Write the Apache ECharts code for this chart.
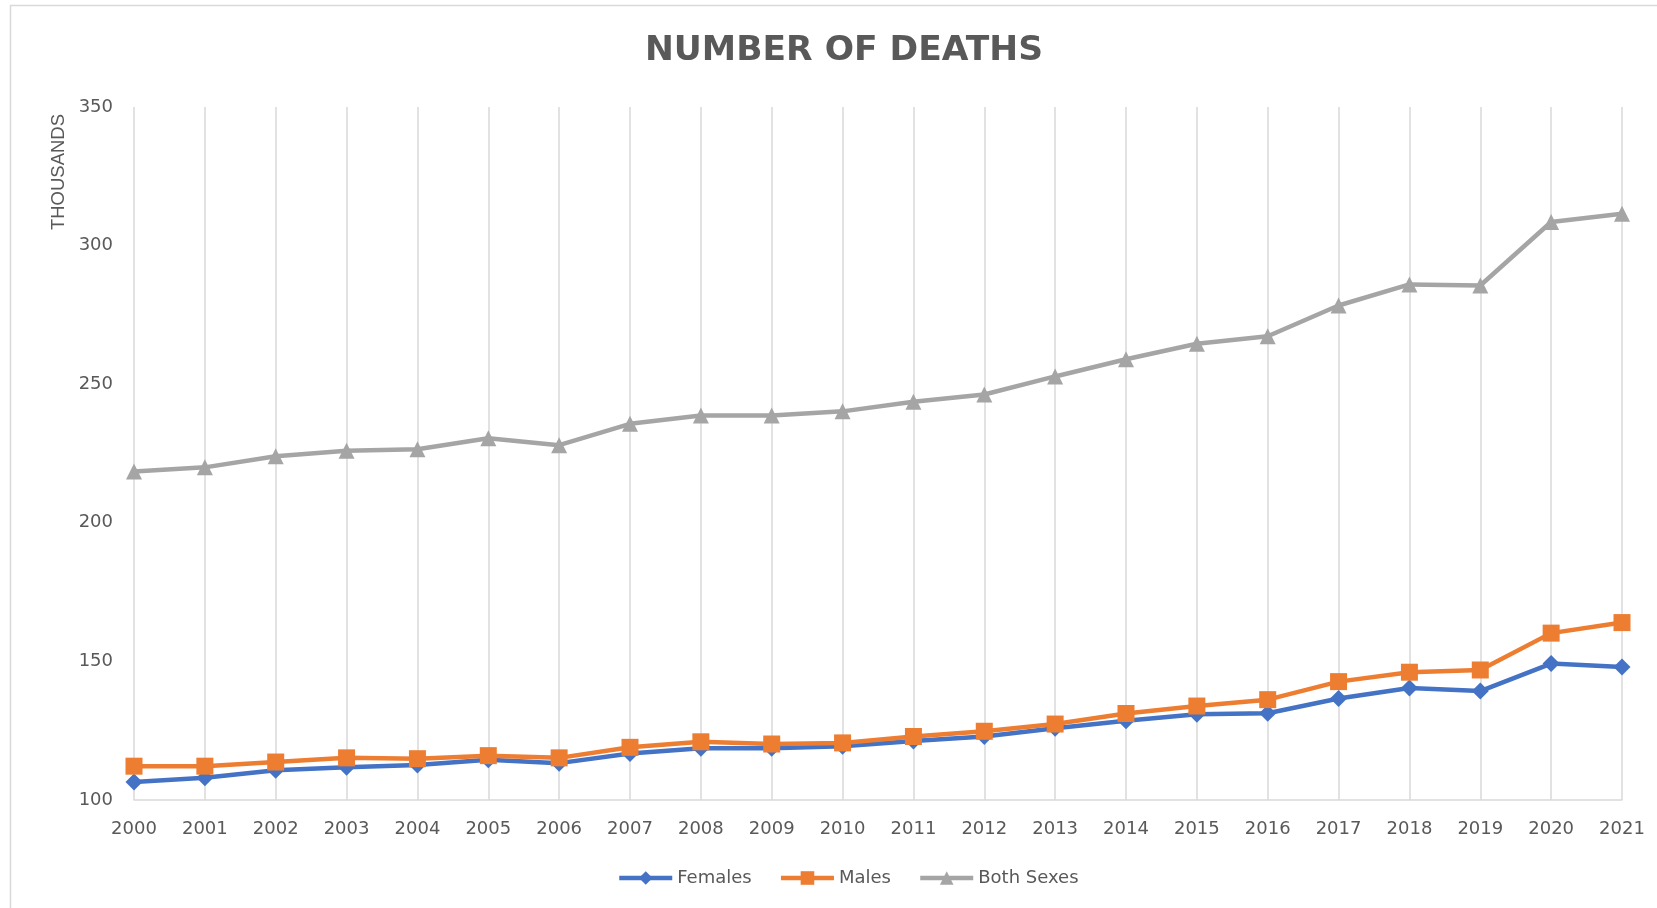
<!DOCTYPE html>
<html>
<head>
<meta charset="utf-8">
<script src="https://cdn.jsdelivr.net/npm/echarts@6/dist/echarts.min.js"></script>
<style>html,body{margin:0;padding:0;background:#fff;}#c{width:1657px;height:908px;}</style>
</head>
<body>
<div id="c"></div>
<script>
const years = ['2000','2001','2002','2003','2004','2005','2006','2007','2008','2009','2010','2011','2012','2013','2014','2015','2016','2017','2018','2019','2020','2021'];
const females = [106.5,108.0,110.7,111.8,112.6,114.5,113.3,116.8,118.7,118.7,119.4,121.3,122.9,125.9,128.6,130.9,131.3,136.6,140.4,139.3,149.2,148.0];
const males = [112.2,112.2,113.7,115.2,114.9,116.0,115.2,119.0,121.0,120.2,120.6,122.9,124.8,127.4,131.2,133.9,136.2,142.7,146.1,146.9,160.2,164.0];
const bothSexes = [218.5,220.0,224.0,226.0,226.5,230.5,228.0,235.7,238.7,238.7,240.2,243.7,246.3,252.8,259.0,264.6,267.3,278.4,286.0,285.6,308.5,311.5];
const yTicks = {min:100, max:350, interval:50};

const chart = echarts.init(document.getElementById('c'), null, {renderer:'canvas'});
const txt = '#595959';
const mkSeries = (name, data, color, symbol, size) => ({
  name, type:'line', data, symbol, symbolSize:size,
  lineStyle:{color, width:4.5}, itemStyle:{color}, emphasis:{disabled:true}, z: 3
});
chart.setOption({
  animation:false,
  backgroundColor:'#fff',
  title:{text:'NUMBER OF DEATHS', left:839, textAlign:'center', top:29,
    textStyle:{fontFamily:'DejaVu Sans', fontWeight:'bold', fontSize:34.5, color:txt}},
  grid:{left:134, right:35, top:107, bottom:108},
  legend:{left:612, top:864, itemWidth:53, itemHeight:17, itemGap:27,
    lineStyle:{width:4.5},
    textStyle:{fontFamily:'DejaVu Sans', fontSize:18, color:txt},
    data:['Females','Males','Both Sexes']},
  xAxis:{type:'category', data:years, boundaryGap:false,
    axisLine:{lineStyle:{color:'#d9d9d9', width:1.5}}, axisTick:{show:false},
    axisLabel:{interval:0, margin:20, fontFamily:'DejaVu Sans', fontSize:18, color:txt},
    splitLine:{show:true, interval:0, lineStyle:{color:'#d9d9d9', width:1.5}}},
  yAxis:{type:'value', min:yTicks.min, max:yTicks.max, interval:yTicks.interval,
    axisLine:{show:false}, axisTick:{show:false}, splitLine:{show:false},
    axisLabel:{margin:21, fontFamily:'DejaVu Sans', fontSize:18, color:txt}},
  graphic:[
    {type:'rect', shape:{x:10.5, y:5.5, width:1700, height:1000}, style:{fill:null, stroke:'#d9d9d9', lineWidth:1.5}, silent:true, z:-10},
    {type:'text', x:59, y:172, rotation:Math.PI/2, style:{text:'THOUSANDS', fontFamily:'Liberation Sans', fontSize:18.5, fill:txt, textAlign:'center', textVerticalAlign:'middle'}}
  ],
  series:[
    mkSeries('Females', females, '#4472C4', 'diamond', 17),
    mkSeries('Males', males, '#ED7D31', 'rect', 17),
    mkSeries('Both Sexes', bothSexes, '#A5A5A5', 'triangle', 16)
  ]
});
</script>
</body>
</html>
